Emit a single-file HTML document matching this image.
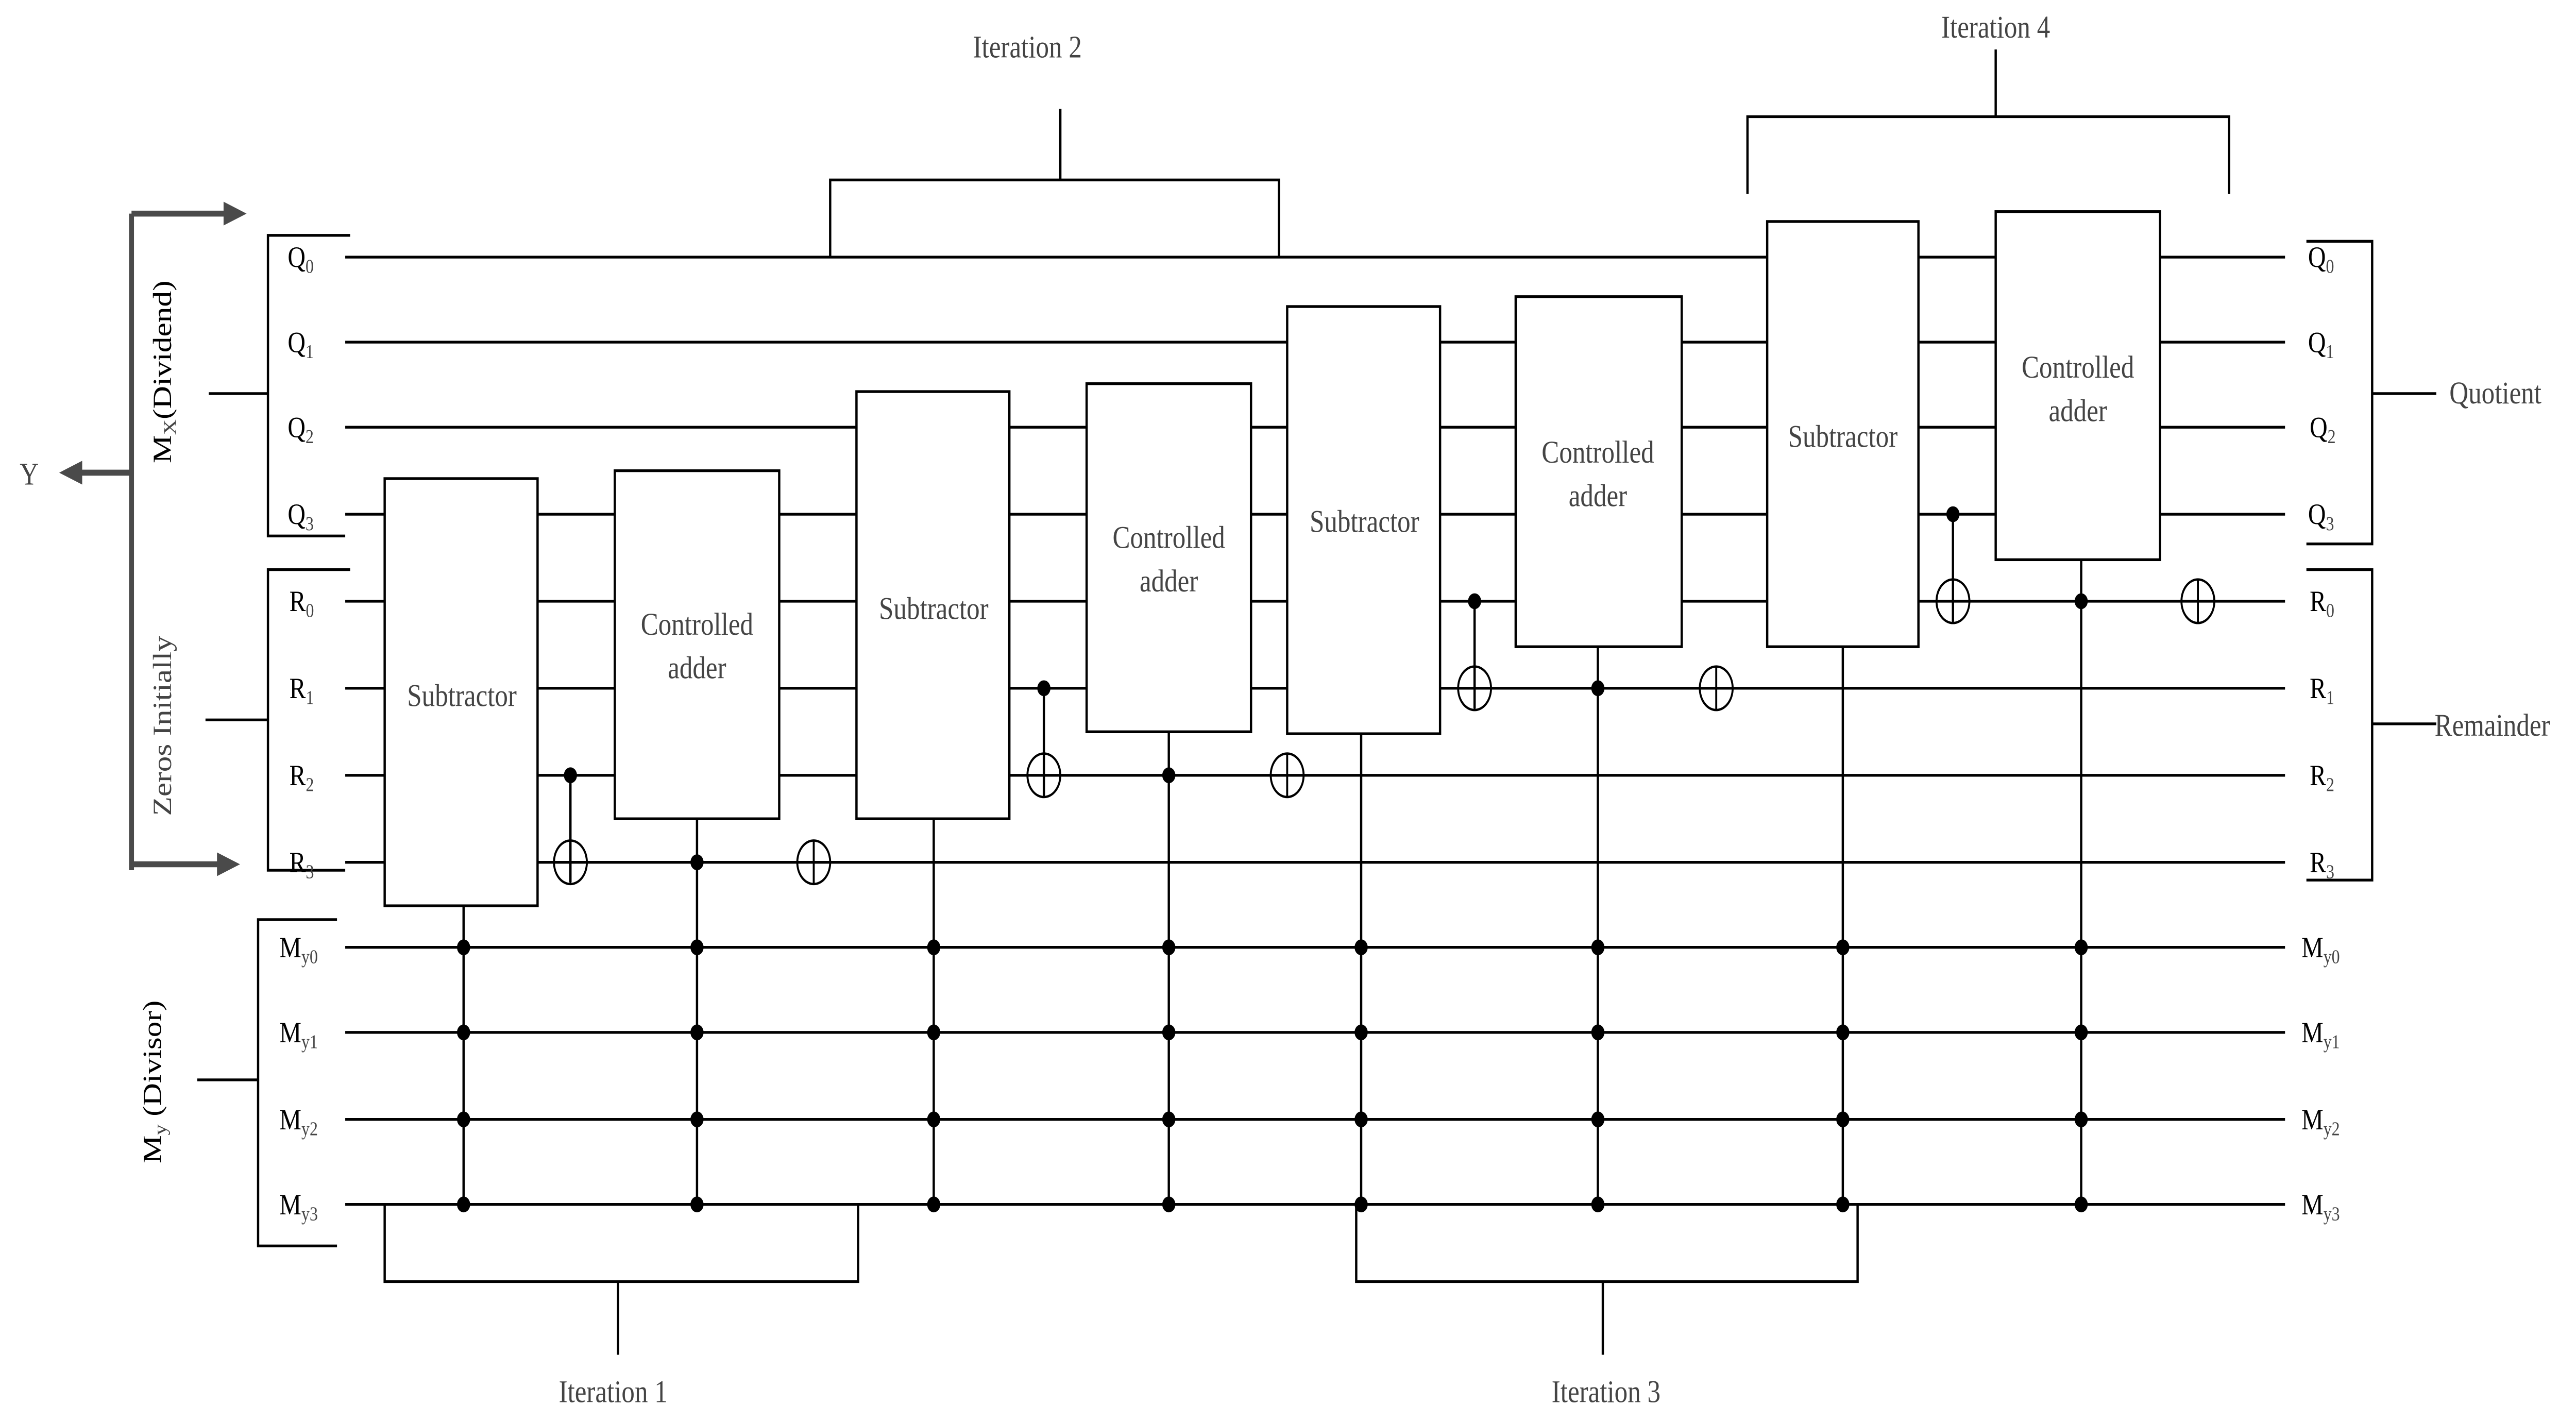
<!DOCTYPE html>
<html><head><meta charset="utf-8"><style>html,body{margin:0;padding:0;background:#fff;width:100%;height:100%;overflow:hidden}svg{display:block;position:fixed;left:0;top:0;width:100vw;height:100vh}</style></head>
<body>
<svg xmlns="http://www.w3.org/2000/svg" viewBox="0 0 1567 719" preserveAspectRatio="none" font-family="Liberation Serif, serif">
<rect width="1567" height="719" fill="#fff"/>
<g stroke="#000" stroke-width="1.4" fill="none">
<path d="M210 130H1390M210 173H1390M210 216H1390M210 260H1390M210 304H1390M210 348H1390M210 392H1390M210 436H1390M210 479H1390M210 522H1390M210 566H1390M210 609H1390"/>
<path d="M213 119H163V271H210M127 199H163M213 288H163V440H210M125 364H163M205 465H157V630H205M120 546H157"/>
<path d="M1403 122H1443V275H1403M1443 199H1482M1403 288H1443V445H1403M1443 366H1482"/>
<path d="M234 609V648H522V609M376 648V685M825 609V648H1130V609M975 648V685M505 130V91H778V130M645 91V55M1063 98V59H1356V98M1214 59V25"/>
<path d="M282 458V609M424 414V609M568 414V609M711 370V609M828 371V609M972 327V609M1121 327V609M1266 283V609"/>
<path d="M347 392V446M635 348V402M897 304V358M1188 260V314"/>
</g>
<g stroke="#000" stroke-width="1.4" fill="#fff">
<rect x="234" y="242" width="93" height="216"/>
<rect x="374" y="238" width="100" height="176"/>
<rect x="521" y="198" width="93" height="216"/>
<rect x="661" y="194" width="100" height="176"/>
<rect x="783" y="155" width="93" height="216"/>
<rect x="922" y="150" width="101" height="177"/>
<rect x="1075" y="112" width="92" height="215"/>
<rect x="1214" y="107" width="100" height="176"/>
</g>
<g fill="#000">
<circle cx="282" cy="479" r="4"/><circle cx="282" cy="522" r="4"/><circle cx="282" cy="566" r="4"/><circle cx="282" cy="609" r="4"/>
<circle cx="424" cy="436" r="4"/><circle cx="424" cy="479" r="4"/><circle cx="424" cy="522" r="4"/><circle cx="424" cy="566" r="4"/><circle cx="424" cy="609" r="4"/>
<circle cx="568" cy="479" r="4"/><circle cx="568" cy="522" r="4"/><circle cx="568" cy="566" r="4"/><circle cx="568" cy="609" r="4"/>
<circle cx="711" cy="392" r="4"/><circle cx="711" cy="479" r="4"/><circle cx="711" cy="522" r="4"/><circle cx="711" cy="566" r="4"/><circle cx="711" cy="609" r="4"/>
<circle cx="828" cy="479" r="4"/><circle cx="828" cy="522" r="4"/><circle cx="828" cy="566" r="4"/><circle cx="828" cy="609" r="4"/>
<circle cx="972" cy="348" r="4"/><circle cx="972" cy="479" r="4"/><circle cx="972" cy="522" r="4"/><circle cx="972" cy="566" r="4"/><circle cx="972" cy="609" r="4"/>
<circle cx="1121" cy="479" r="4"/><circle cx="1121" cy="522" r="4"/><circle cx="1121" cy="566" r="4"/><circle cx="1121" cy="609" r="4"/>
<circle cx="1266" cy="304" r="4"/><circle cx="1266" cy="479" r="4"/><circle cx="1266" cy="522" r="4"/><circle cx="1266" cy="566" r="4"/><circle cx="1266" cy="609" r="4"/>
<circle cx="347" cy="392" r="4"/><circle cx="635" cy="348" r="4"/><circle cx="897" cy="304" r="4"/><circle cx="1188" cy="260" r="4"/>
</g>
<g stroke="#000" stroke-width="1.2" fill="none">
<ellipse cx="347" cy="436" rx="10" ry="11"/><path d="M347 425V447"/>
<ellipse cx="495" cy="436" rx="10" ry="11"/><path d="M495 425V447"/>
<ellipse cx="635" cy="392" rx="10" ry="11"/><path d="M635 381V403"/>
<ellipse cx="783" cy="392" rx="10" ry="11"/><path d="M783 381V403"/>
<ellipse cx="897" cy="348" rx="10" ry="11"/><path d="M897 337V359"/>
<ellipse cx="1044" cy="348" rx="10" ry="11"/><path d="M1044 337V359"/>
<ellipse cx="1188" cy="304" rx="10" ry="11"/><path d="M1188 293V315"/>
<ellipse cx="1337" cy="304" rx="10" ry="11"/><path d="M1337 293V315"/>
</g>
<g stroke="#4a4a4a" stroke-width="3" fill="none">
<path d="M80 108V440M80 108H140M80 437H136M80 239H46"/>
</g>
<g fill="#4a4a4a">
<polygon points="150,108 136,102 136,114"/>
<polygon points="146,437 132,431 132,443"/>
<polygon points="36,239 50,233 50,245"/>
</g>
<g fill="#444" font-size="16" text-anchor="middle">
<text x="281" y="357">Subtractor</text>
<text x="424" y="321">Controlled</text><text x="424" y="343">adder</text>
<text x="568" y="313">Subtractor</text>
<text x="711" y="277">Controlled</text><text x="711" y="299">adder</text>
<text x="830" y="269">Subtractor</text>
<text x="972" y="234">Controlled</text><text x="972" y="256">adder</text>
<text x="1121" y="226">Subtractor</text>
<text x="1264" y="191">Controlled</text><text x="1264" y="213">adder</text>
<text x="625" y="29">Iteration 2</text>
<text x="1214" y="19">Iteration 4</text>
<text x="373" y="709">Iteration 1</text>
<text x="977" y="709">Iteration 3</text>
<text x="1490" y="204" text-anchor="start">Quotient</text>
<text x="1481" y="372" text-anchor="start">Remainder</text>
<text x="12" y="245" text-anchor="start">Y</text>
</g>
<g font-size="15" fill="#000">
<text x="175" y="135">Q<tspan font-size="10" dy="3" fill="#444">0</tspan></text>
<text x="175" y="178">Q<tspan font-size="10" dy="3" fill="#444">1</tspan></text>
<text x="175" y="221">Q<tspan font-size="10" dy="3" fill="#444">2</tspan></text>
<text x="175" y="265">Q<tspan font-size="10" dy="3" fill="#444">3</tspan></text>
<text x="176" y="309">R<tspan font-size="10" dy="3" fill="#444">0</tspan></text>
<text x="176" y="353">R<tspan font-size="10" dy="3" fill="#444">1</tspan></text>
<text x="176" y="397">R<tspan font-size="10" dy="3" fill="#444">2</tspan></text>
<text x="176" y="441">R<tspan font-size="10" dy="3" fill="#444">3</tspan></text>
<text x="170" y="484">M<tspan font-size="10" dy="3" fill="#444">y0</tspan></text>
<text x="170" y="527">M<tspan font-size="10" dy="3" fill="#444">y1</tspan></text>
<text x="170" y="571">M<tspan font-size="10" dy="3" fill="#444">y2</tspan></text>
<text x="170" y="614">M<tspan font-size="10" dy="3" fill="#444">y3</tspan></text>
<text x="1404" y="135">Q<tspan font-size="10" dy="3" fill="#444">0</tspan></text>
<text x="1404" y="178">Q<tspan font-size="10" dy="3" fill="#444">1</tspan></text>
<text x="1405" y="221">Q<tspan font-size="10" dy="3" fill="#444">2</tspan></text>
<text x="1404" y="265">Q<tspan font-size="10" dy="3" fill="#444">3</tspan></text>
<text x="1405" y="309">R<tspan font-size="10" dy="3" fill="#444">0</tspan></text>
<text x="1405" y="353">R<tspan font-size="10" dy="3" fill="#444">1</tspan></text>
<text x="1405" y="397">R<tspan font-size="10" dy="3" fill="#444">2</tspan></text>
<text x="1405" y="441">R<tspan font-size="10" dy="3" fill="#444">3</tspan></text>
<text x="1400" y="484">M<tspan font-size="10" dy="3" fill="#444">y0</tspan></text>
<text x="1400" y="527">M<tspan font-size="10" dy="3" fill="#444">y1</tspan></text>
<text x="1400" y="571">M<tspan font-size="10" dy="3" fill="#444">y2</tspan></text>
<text x="1400" y="614">M<tspan font-size="10" dy="3" fill="#444">y3</tspan></text>
</g>
<g font-size="16" text-anchor="middle">
<text transform="translate(104,188) rotate(-90)" fill="#000">M<tspan font-size="11" dy="3" fill="#444">X</tspan><tspan dy="-3">(Dividend)</tspan></text>
<text transform="translate(104,367) rotate(-90)" fill="#444">Zeros Initially</text>
<text transform="translate(98,547) rotate(-90)" fill="#000">M<tspan font-size="11" dy="3" fill="#444">y</tspan><tspan dy="-3"> (Divisor)</tspan></text>
</g>
</svg>
</body></html>
